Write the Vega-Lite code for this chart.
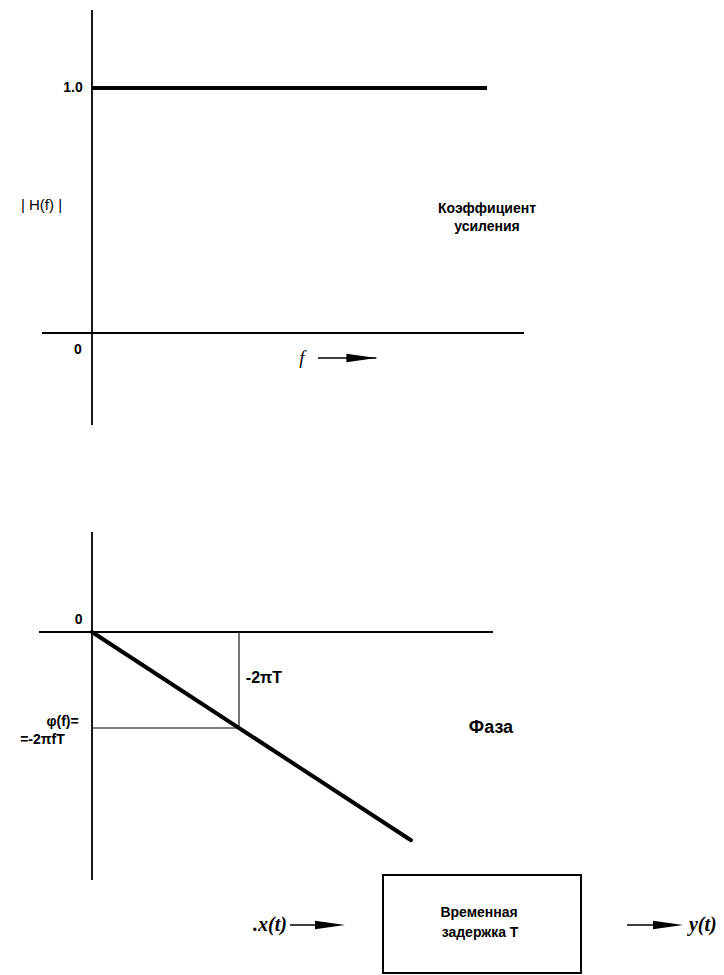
{
  "$schema": "https://vega.github.io/schema/vega-lite/v6.json",
  "width": 724,
  "height": 975,
  "padding": 0,
  "autosize": {"type": "none"},
  "background": "white",
  "config": {"view": {"stroke": null}, "text": {"font": "Liberation Sans", "color": "black"}},
  "resolve": {"scale": {"x": "independent", "y": "independent"}},
  "layer": [
    {
      "data": {"values": [
        {"part": "axis", "f": 0, "f2": 0, "h": -0.3755, "h2": 1.3184},
        {"part": "axis", "f": -1.266, "f2": 10.937, "h": 0, "h2": 0},
        {"part": "response", "f": 0, "f2": 10, "h": 1, "h2": 1},
        {"part": "arrow", "f": 5.72, "f2": 7.2, "h": -0.102, "h2": -0.102}
      ]},
      "encoding": {
        "x": {"field": "f", "type": "quantitative", "scale": {"domain": [-2.329, 16.0], "nice": false, "zero": false}, "axis": null},
        "y": {"field": "h", "type": "quantitative", "scale": {"domain": [-2.6204, 1.3592], "nice": false, "zero": false}, "axis": null}
      },
      "layer": [
        {
          "transform": [{"filter": "datum.part == 'axis'"}],
          "mark": {"type": "rule", "color": "black", "strokeWidth": 1.8, "strokeCap": "butt"},
          "encoding": {"x2": {"field": "f2"}, "y2": {"field": "h2"}}
        },
        {
          "transform": [{"filter": "datum.part == 'response'"}],
          "mark": {"type": "rule", "color": "black", "strokeWidth": 4, "strokeCap": "butt"},
          "encoding": {"x2": {"field": "f2"}, "y2": {"field": "h2"}}
        },
        {
          "transform": [{"filter": "datum.part == 'arrow'"}],
          "mark": {"type": "rule", "color": "black", "strokeWidth": 1.3, "strokeCap": "butt"},
          "encoding": {"x2": {"field": "f2"}, "y2": {"field": "h2"}}
        },
        {
          "transform": [{"filter": "datum.part == 'arrow'"}],
          "mark": {"type": "point", "filled": true, "color": "black", "opacity": 1, "shape": "M 0 0 L -2 -0.28 L -2 0.28 Z", "size": 900},
          "encoding": {"x": {"field": "f2", "type": "quantitative"}}
        }
      ]
    },
    {
      "data": {"values": [
        {"role": "tick", "label": "1.0", "f": -0.481, "h": 1},
        {"role": "tick", "label": "0", "f": -0.354, "h": -0.069},
        {"role": "title", "label": "| H(f) |", "f": -1.278, "h": 0.522},
        {"role": "caption", "label": "Коэффициент", "f": 10.0, "h": 0.506},
        {"role": "caption", "label": "усиления", "f": 10.0, "h": 0.433},
        {"role": "var", "label": "f", "f": 5.316, "h": -0.102}
      ]},
      "encoding": {
        "x": {"field": "f", "type": "quantitative", "scale": {"domain": [-2.329, 16.0], "nice": false, "zero": false}, "axis": null},
        "y": {"field": "h", "type": "quantitative", "scale": {"domain": [-2.6204, 1.3592], "nice": false, "zero": false}, "axis": null},
        "text": {"field": "label"}
      },
      "layer": [
        {
          "transform": [{"filter": "datum.role == 'tick'"}],
          "mark": {"type": "text", "align": "center", "baseline": "middle", "fontSize": 14, "fontWeight": 600}
        },
        {
          "transform": [{"filter": "datum.role == 'title'"}],
          "mark": {"type": "text", "align": "center", "baseline": "middle", "fontSize": 15, "letterSpacing": 1}
        },
        {
          "transform": [{"filter": "datum.role == 'caption'"}],
          "mark": {"type": "text", "align": "center", "baseline": "middle", "fontSize": 14, "fontWeight": "bold"}
        },
        {
          "transform": [{"filter": "datum.role == 'var'"}],
          "mark": {"type": "text", "align": "center", "baseline": "middle", "fontSize": 19, "font": "Liberation Serif", "fontStyle": "italic"}
        }
      ]
    },
    {
      "data": {"values": [
        {"part": "axis", "f": 0, "f2": 0, "phi": -16.232, "phi2": 6.545},
        {"part": "axis", "f": -0.3605, "f2": 2.728, "phi": 0, "phi2": 0},
        {"part": "response", "f": 0, "f2": 2.17, "phi": 0, "phi2": -13.63},
        {"part": "guide", "f": 1, "f2": 1, "phi": 0, "phi2": -6.283},
        {"part": "guide", "f": 0, "f2": 1, "phi": -6.283, "phi2": -6.283}
      ]},
      "encoding": {
        "x": {"field": "f", "type": "quantitative", "scale": {"domain": [-0.6259, 4.2993], "nice": false, "zero": false}, "axis": null},
        "y": {"field": "phi", "type": "quantitative", "scale": {"domain": [-22.449, 41.364], "nice": false, "zero": false}, "axis": null},
        "x2": {"field": "f2"},
        "y2": {"field": "phi2"}
      },
      "layer": [
        {
          "transform": [{"filter": "datum.part == 'axis'"}],
          "mark": {"type": "rule", "color": "black", "strokeWidth": 1.8, "strokeCap": "butt"}
        },
        {
          "transform": [{"filter": "datum.part == 'guide'"}],
          "mark": {"type": "rule", "color": "black", "strokeWidth": 1.1, "strokeCap": "butt"}
        },
        {
          "transform": [{"filter": "datum.part == 'response'"}],
          "mark": {"type": "rule", "color": "black", "strokeWidth": 4, "strokeCap": "round"}
        }
      ]
    },
    {
      "data": {"values": [
        {"role": "tick", "label": "0", "f": -0.091, "phi": 0.785},
        {"role": "note", "label": "-2πT", "f": 1.17, "phi": -3.0},
        {"role": "small", "label": "φ(f)=", "f": -0.2, "phi": -5.89},
        {"role": "small", "label": "=-2πfT", "f": -0.337, "phi": -7.07},
        {"role": "caption", "label": "Фаза", "f": 2.714, "phi": -6.283}
      ]},
      "encoding": {
        "x": {"field": "f", "type": "quantitative", "scale": {"domain": [-0.6259, 4.2993], "nice": false, "zero": false}, "axis": null},
        "y": {"field": "phi", "type": "quantitative", "scale": {"domain": [-22.449, 41.364], "nice": false, "zero": false}, "axis": null},
        "text": {"field": "label"}
      },
      "layer": [
        {
          "transform": [{"filter": "datum.role == 'tick'"}],
          "mark": {"type": "text", "align": "center", "baseline": "middle", "fontSize": 14, "fontWeight": 600}
        },
        {
          "transform": [{"filter": "datum.role == 'note'"}],
          "mark": {"type": "text", "align": "center", "baseline": "middle", "fontSize": 16, "fontWeight": 600, "letterSpacing": 1.5}
        },
        {
          "transform": [{"filter": "datum.role == 'small'"}],
          "mark": {"type": "text", "align": "center", "baseline": "middle", "fontSize": 14, "fontWeight": "bold"}
        },
        {
          "transform": [{"filter": "datum.role == 'caption'"}],
          "mark": {"type": "text", "align": "center", "baseline": "middle", "fontSize": 18, "fontWeight": "bold"}
        }
      ]
    },
    {
      "data": {"values": [
        {"part": "box", "u": 0, "u2": 1, "v": 0, "v2": 1},
        {"part": "arrow", "u": -0.47, "u2": -0.25, "v": 0.49, "v2": 0.49},
        {"part": "arrow", "u": 1.232, "u2": 1.45, "v": 0.49, "v2": 0.49}
      ]},
      "encoding": {
        "x": {"field": "u", "type": "quantitative", "scale": {"domain": [-1.934, 1.722], "nice": false, "zero": false}, "axis": null},
        "y": {"field": "v", "type": "quantitative", "scale": {"domain": [-0.0204, 9.929], "nice": false, "zero": false}, "axis": null},
        "x2": {"field": "u2"},
        "y2": {"field": "v2"}
      },
      "layer": [
        {
          "transform": [{"filter": "datum.part == 'box'"}],
          "mark": {"type": "rect", "filled": false, "stroke": "black", "strokeWidth": 2}
        },
        {
          "transform": [{"filter": "datum.part == 'arrow'"}],
          "mark": {"type": "rule", "color": "black", "strokeWidth": 1.3, "strokeCap": "butt"}
        }
      ]
    },
    {
      "data": {"values": [{"u": -0.192, "v": 0.49}, {"u": 1.515, "v": 0.49}]},
      "mark": {"type": "point", "filled": true, "color": "black", "opacity": 1, "shape": "M 0 0 L -2 -0.28 L -2 0.28 Z", "size": 900},
      "encoding": {
        "x": {"field": "u", "type": "quantitative", "scale": {"domain": [-1.934, 1.722], "nice": false, "zero": false}, "axis": null},
        "y": {"field": "v", "type": "quantitative", "scale": {"domain": [-0.0204, 9.929], "nice": false, "zero": false}, "axis": null}
      }
    },
    {
      "data": {"values": [
        {"role": "box", "label": "Временная", "u": 0.485, "v": 0.612},
        {"role": "box", "label": "задержка T", "u": 0.49, "v": 0.408},
        {"role": "signal", "label": ".x(t)", "u": -0.571, "v": 0.49},
        {"role": "signal", "label": "y(t)", "u": 1.615, "v": 0.49}
      ]},
      "encoding": {
        "x": {"field": "u", "type": "quantitative", "scale": {"domain": [-1.934, 1.722], "nice": false, "zero": false}, "axis": null},
        "y": {"field": "v", "type": "quantitative", "scale": {"domain": [-0.0204, 9.929], "nice": false, "zero": false}, "axis": null},
        "text": {"field": "label"}
      },
      "layer": [
        {
          "transform": [{"filter": "datum.role == 'box'"}],
          "mark": {"type": "text", "align": "center", "baseline": "middle", "fontSize": 14, "fontWeight": "bold"}
        },
        {
          "transform": [{"filter": "datum.role == 'signal'"}],
          "mark": {"type": "text", "align": "center", "baseline": "middle", "fontSize": 20, "font": "Liberation Serif", "fontStyle": "italic", "fontWeight": "bold"}
        }
      ]
    }
  ]
}
